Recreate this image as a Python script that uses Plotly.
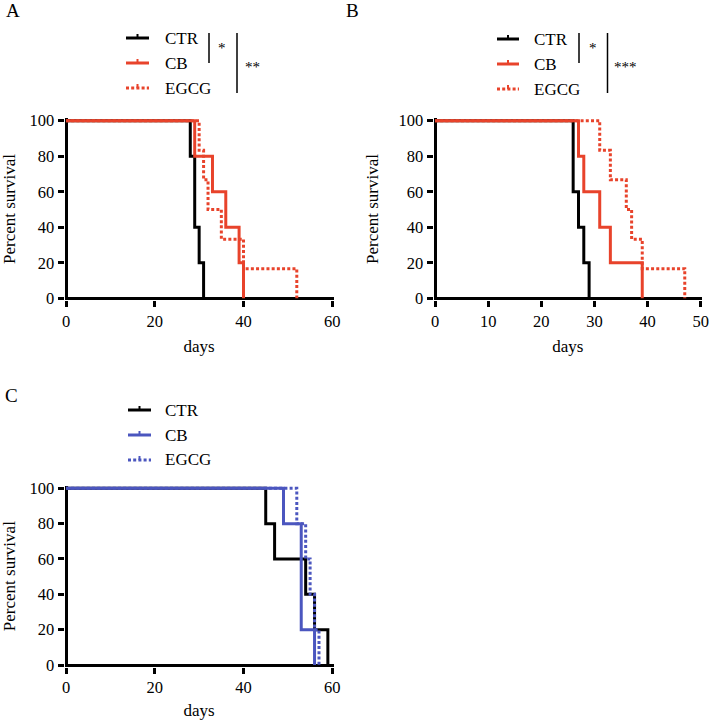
import plotly.graph_objects as go

# ---------------- data (Kaplan-Meier steps: event days and % survival) ----------------
groups = ["CTR", "CB", "EGCG"]

# Panel A
a_ctr_days = [0, 28, 29, 30, 31]
a_ctr_surv = [100, 80, 40, 20, 0]
a_cb_days = [0, 29, 33, 36, 39, 40]
a_cb_surv = [100, 80, 60, 40, 20, 0]
a_egcg_days = [0, 30, 31, 32, 35, 40, 52]
a_egcg_surv = [100, 83.3, 66.7, 50, 33.3, 16.7, 0]

# Panel B
b_ctr_days = [0, 26, 27, 28, 29]
b_ctr_surv = [100, 60, 40, 20, 0]
b_cb_days = [0, 27, 28, 31, 33, 39]
b_cb_surv = [100, 80, 60, 40, 20, 0]
b_egcg_days = [0, 31, 33, 36, 37, 39, 47]
b_egcg_surv = [100, 83.3, 66.7, 50, 33.3, 16.7, 0]

# Panel C
c_ctr_days = [0, 45, 47, 54, 56, 59]
c_ctr_surv = [100, 80, 60, 40, 20, 0]
c_cb_days = [0, 49, 53, 56]
c_cb_surv = [100, 80, 20, 0]
c_egcg_days = [0, 52, 54, 55, 56, 57]
c_egcg_surv = [100, 80, 60, 40, 20, 0]

x_ticks_a = [0, 20, 40, 60]
x_ticks_b = [0, 10, 20, 30, 40, 50]
x_ticks_c = [0, 20, 40, 60]
y_ticks = [0, 20, 40, 60, 80, 100]

x_title = "days"
y_title = "Percent survival"
panel_letters = ["A", "B", "C"]
sig_a = ["*", "**"]
sig_b = ["*", "***"]

# ---------------- styling ----------------
W, H = 709, 720
FONT = "Liberation Serif, Times New Roman, serif"
BLACK = "#000000"
RED = "#E8432B"
BLUE = "#4B56BF"
LW = 3
DOT = "3px,2.2px"


def px(x):
    return x / W


def py(y):
    return 1 - y / H


fig = go.Figure()


def add_panel(idx, xmax, x0px, x1px, y0px, y1px, xticks, series):
    xa = "xaxis" if idx == 1 else f"xaxis{idx}"
    ya = "yaxis" if idx == 1 else f"yaxis{idx}"
    xr = "x" if idx == 1 else f"x{idx}"
    yr = "y" if idx == 1 else f"y{idx}"
    pxx = (x1px - x0px) / xmax
    pxy = (y0px - y1px) / 100.0
    left, right = x0px - 1.5, x1px + 1.5
    bottom, top = y0px + 1.5, y1px - 2.5
    xrange_ = [(left - x0px) / pxx, (right - x0px) / pxx]
    yrange_ = [(y0px - bottom) / pxy, (y0px - top) / pxy]
    for name, days, surv, color, dash in series:
        fig.add_trace(go.Scatter(
            x=days, y=surv, mode="lines", name=name, showlegend=False,
            line=dict(shape="hv", color=color, width=LW,
                      dash="solid" if dash == "solid" else DOT),
            xaxis=xr, yaxis=yr))
    common = dict(showgrid=False, showline=False, zeroline=True, zerolinecolor=BLACK,
                  zerolinewidth=3, ticks="outside", ticklen=6, tickwidth=2.5,
                  tickcolor=BLACK, tickfont=dict(family=FONT, size=16.5, color=BLACK),
                  automargin=False)
    fig.update_layout(**{
        xa: dict(domain=[px(left), px(right)], range=xrange_, tickvals=xticks,
                 anchor=yr,
                 title=dict(text=x_title, standoff=10,
                            font=dict(family=FONT, size=17, color=BLACK)),
                 **common),
        ya: dict(domain=[py(bottom), py(top)], range=yrange_, tickvals=y_ticks,
                 anchor=xr,
                 title=dict(text=y_title, standoff=15,
                            font=dict(family=FONT, size=17, color=BLACK)),
                 **common),
    })


add_panel(1, 60, 66, 332.3, 298.3, 120.7, x_ticks_a, [
    ("CTR", a_ctr_days, a_ctr_surv, BLACK, "solid"),
    ("CB", a_cb_days, a_cb_surv, RED, "solid"),
    ("EGCG", a_egcg_days, a_egcg_surv, RED, "dot"),
])
add_panel(2, 50, 435, 700.7, 298.3, 120.7, x_ticks_b, [
    ("CTR", b_ctr_days, b_ctr_surv, BLACK, "solid"),
    ("CB", b_cb_days, b_cb_surv, RED, "solid"),
    ("EGCG", b_egcg_days, b_egcg_surv, RED, "dot"),
])
add_panel(3, 60, 66, 332.3, 665, 488.3, x_ticks_c, [
    ("CTR", c_ctr_days, c_ctr_surv, BLACK, "solid"),
    ("CB", c_cb_days, c_cb_surv, BLUE, "solid"),
    ("EGCG", c_egcg_days, c_egcg_surv, BLUE, "dot"),
])

shapes = []


def legend(x_sample0, x_sample1, x_text, rows_y, colors):
    for name, yy, color, dotted in zip(groups, rows_y, colors, [False, False, True]):
        shapes.append(dict(type="line", xref="paper", yref="paper",
                           x0=px(x_sample0), x1=px(x_sample1), y0=py(yy), y1=py(yy),
                           line=dict(color=color, width=3, dash=DOT if dotted else "solid")))
        xm = (x_sample0 + x_sample1) / 2
        shapes.append(dict(type="line", xref="paper", yref="paper",
                           x0=px(xm), x1=px(xm), y0=py(yy), y1=py(yy - 4),
                           line=dict(color=color, width=2)))
        fig.add_annotation(x=px(x_text), y=py(yy), xref="paper", yref="paper",
                           text=name, showarrow=False, xanchor="left", yanchor="middle",
                           font=dict(family=FONT, size=17, color=BLACK))


def bracket(x, y0, y1, label, lx, ly):
    shapes.append(dict(type="line", xref="paper", yref="paper",
                       x0=px(x), x1=px(x), y0=py(y0), y1=py(y1),
                       line=dict(color=BLACK, width=1.5)))
    fig.add_annotation(x=px(lx), y=py(ly), xref="paper", yref="paper", text=label,
                       showarrow=False, xanchor="center", yanchor="middle",
                       font=dict(family=FONT, size=15, color=BLACK))


legend(126, 149, 163, [38, 63, 88], [BLACK, RED, RED])
bracket(209, 33, 63, sig_a[0], 222, 48)
bracket(237, 33, 93, sig_a[1], 252, 67)

legend(497, 519, 532, [39, 64, 89], [BLACK, RED, RED])
bracket(579, 33, 63, sig_b[0], 593, 48)
bracket(607.5, 33, 93, sig_b[1], 625, 67)

legend(128, 151, 163, [410, 435, 460], [BLACK, BLUE, BLUE])

for letter, (lx, ly) in zip(panel_letters, [(12.5, 11), (352, 11), (11, 395)]):
    fig.add_annotation(x=px(lx), y=py(ly), xref="paper", yref="paper", text=letter,
                       showarrow=False, xanchor="center", yanchor="middle",
                       font=dict(family=FONT, size=19, color=BLACK))

fig.update_layout(width=W, height=H,
                  margin=dict(l=0, r=0, t=0, b=0, pad=0, autoexpand=False),
                  paper_bgcolor="white", plot_bgcolor="white", shapes=shapes,
                  showlegend=False)

fig.write_html("out.html", config={"displayModeBar": False},
               post_script="document.body.style.margin='0';document.body.style.overflow='hidden';")
